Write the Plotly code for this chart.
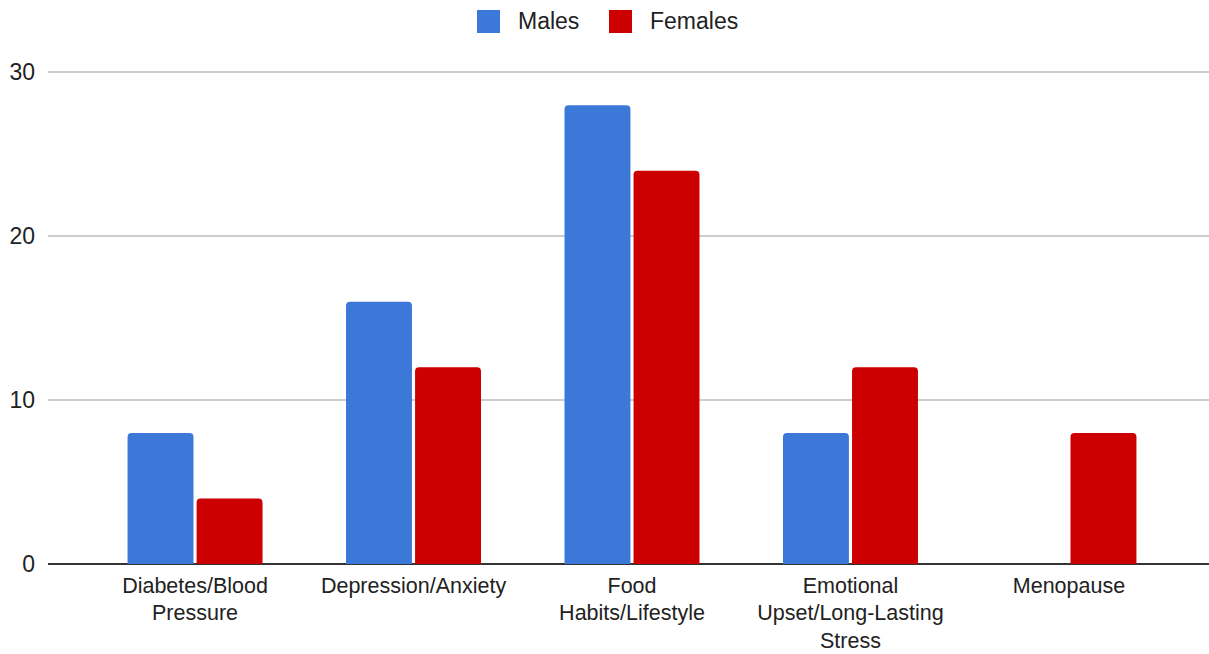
import plotly.graph_objects as go

categories = ["Diabetes/Blood<br>Pressure", "Depression/Anxiety", "Food<br>Habits/Lifestyle",
              "Emotional<br>Upset/Long-Lasting<br>Stress", "Menopause"]
males = [8, 16, 28, 8, 0]
females = [4, 12, 24, 12, 8]
y_ticks = [0, 10, 20, 30]

BLUE = "#3c78d8"
RED = "#cc0000"
FONT = "Arial, Liberation Sans, sans-serif"
FS = 23
FSX = 21.5

W, H = 1209, 654
L, R, T, B = 48, 0, 56, 90
PW, PH = W - L - R, H - T - B

fig = go.Figure()
fig.add_trace(go.Bar(name="Males", x=categories, y=males, marker=dict(color=BLUE, line=dict(width=0)),
                     showlegend=False))
fig.add_trace(go.Bar(name="Females", x=categories, y=females, marker=dict(color=RED, line=dict(width=0)),
                     showlegend=False))

def px_x(p):
    return (p - L) / PW

def px_y(p):
    return (H - B - p) / PH

shapes = []
annotations = []
for name, color, sx, tx in [("Males", BLUE, 477, 516), ("Females", RED, 609, 648)]:
    shapes.append(dict(type="rect", xref="paper", yref="paper",
                       x0=px_x(sx), x1=px_x(sx + 23), y0=px_y(33), y1=px_y(10),
                       fillcolor=color, line=dict(width=0), layer="above"))
    annotations.append(dict(text=name, xref="paper", yref="paper", x=px_x(tx), y=px_y(21.5),
                            xanchor="left", yanchor="middle", showarrow=False,
                            font=dict(size=FS, color="#222222", family=FONT)))

fig.update_layout(
    width=W, height=H,
    margin=dict(l=L, r=R, t=T, b=B, autoexpand=False),
    paper_bgcolor="white", plot_bgcolor="white",
    barmode="group", bargap=0.368, bargroupgap=0.045,
    barcornerradius=4,
    font=dict(family=FONT, size=FS, color="#222222"),
    showlegend=False,
    shapes=shapes, annotations=annotations,
    xaxis=dict(range=[-0.673, 4.641], showgrid=False, showline=False, zeroline=False,
               ticks="", ticklabelstandoff=6, automargin=False,
               tickfont=dict(size=FSX, color="#222222"), fixedrange=True),
    yaxis=dict(range=[0, 31], tickvals=y_ticks, ticktext=[str(v) for v in y_ticks],
               showgrid=True, gridcolor="#cccccc", gridwidth=1.5,
               zeroline=True, zerolinecolor="#333333", zerolinewidth=1.5,
               showline=False, ticks="", ticklabelstandoff=12, automargin=False,
               tickfont=dict(size=FS, color="#222222")),
)

fig.write_html("out.html", config={"displayModeBar": False},
               post_script="document.body.style.margin='0';document.body.style.overflow='hidden';")
